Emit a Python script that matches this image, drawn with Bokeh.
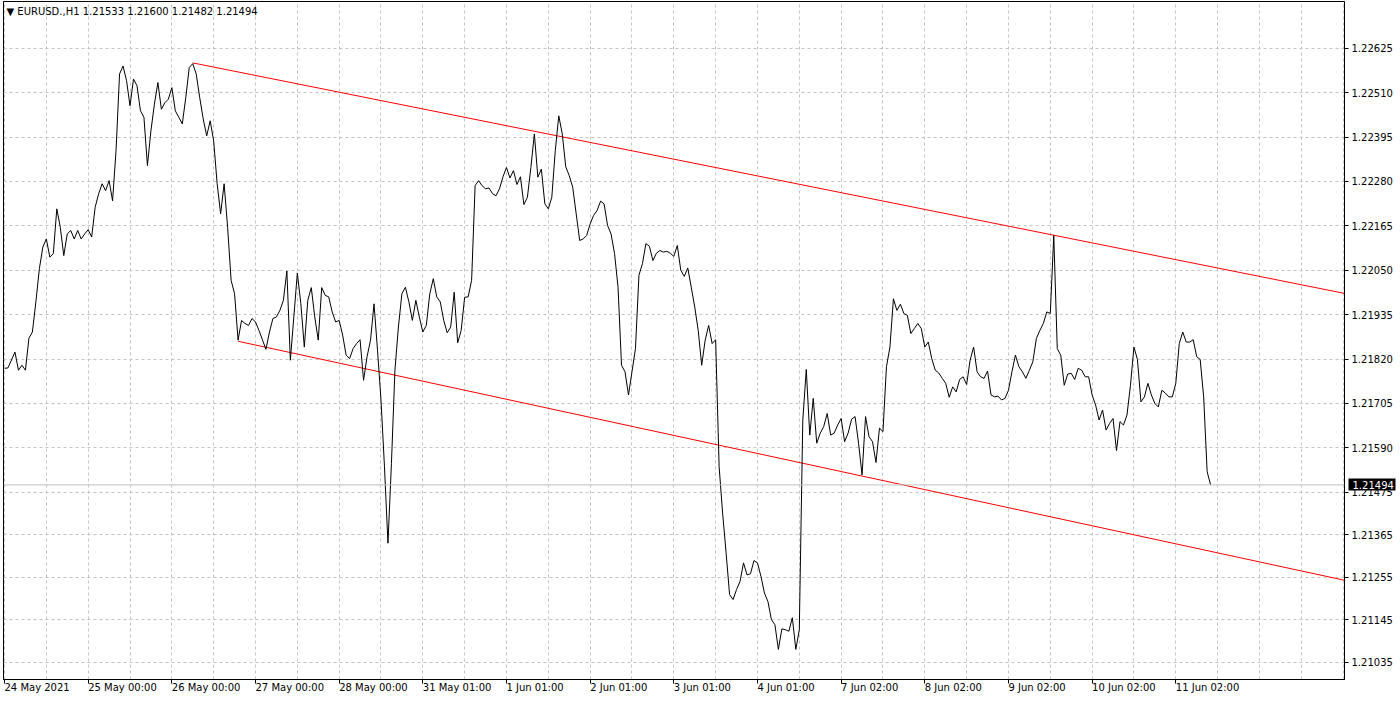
from bokeh.plotting import figure
from bokeh.models import (Range1d, FixedTicker, PrintfTickFormatter, Label, Span,
                          LinearAxis)
from bokeh.embed import file_html
from bokeh.resources import INLINE

# ---------------- data (hourly closes, EURUSD H1) ----------------
bars = [0, 1, 3, 4, 5, 6, 7, 8, 9, 10, 11, 12, 13, 14, 15, 16, 17, 18, 19, 20,
        21, 22, 23, 24, 25, 26, 27, 28, 29, 30, 31, 32, 33, 34, 35, 36, 37, 38, 39, 40,
        41, 42, 43, 44, 45, 46, 47, 48, 49, 50, 51, 52, 53, 54, 55, 56, 57, 58, 59, 60,
        61, 62, 63, 64, 65, 66, 67, 68, 69, 70, 71, 72, 73, 75, 76, 77, 78, 79, 80, 81,
        82, 83, 84, 85, 86, 87, 88, 89, 90, 91, 92, 93, 94, 95, 96, 97, 98, 99, 100, 101,
        102, 103, 104, 105, 106, 107, 108, 109, 110, 111, 112, 113, 114, 115, 116, 117, 118, 119, 120, 121,
        122, 123, 124, 125, 126, 127, 128, 129, 130, 131, 132, 133, 134, 135, 136, 137, 138, 139, 140, 141,
        142, 143, 144, 145, 146, 147, 148, 149, 150, 151, 152, 153, 154, 155, 156, 157, 158, 159, 160, 161,
        162, 163, 164, 165, 166, 167, 168, 169, 170, 171, 172, 173, 174, 175, 176, 177, 178, 179, 180, 181,
        182, 183, 184, 185, 186, 187, 188, 189, 190, 191, 192, 193, 194, 195, 196, 197, 198, 199, 200, 201,
        202, 203, 204, 205, 206, 207, 208, 209, 210, 211, 212, 213, 214, 215, 216, 217, 218, 219, 220, 221,
        222, 223, 224, 225, 226, 227, 228, 229, 230, 231, 232, 233, 234, 235, 236, 237, 238, 239, 240, 241,
        242, 243, 244, 245, 246, 247, 248, 249, 250, 251, 252, 253, 254, 255, 256, 257, 258, 259, 260, 261,
        262, 263, 264, 265, 266, 267, 268, 269, 270, 271, 272, 273, 274, 275, 276, 277, 278, 279, 280, 281,
        282, 283, 284, 285, 286, 287, 288, 289, 290, 291, 292, 293, 294, 295, 296, 297, 298, 299, 300, 301,
        302, 303, 304, 305, 306, 307, 308, 309, 310, 311, 312, 313, 314, 315, 316, 317, 318, 319, 320, 321,
        322, 323, 324, 325, 326, 327, 328, 329, 330, 331, 332, 333, 334, 335, 336, 337, 338, 339, 340, 341,
        342, 343, 344, 345, 346]

closes = [1.21796, 1.21797, 1.21838, 1.21791, 1.21804, 1.21791, 1.21874, 1.21890, 1.21968, 1.22054,
          1.22110, 1.22131, 1.22084, 1.22093, 1.22209, 1.22161, 1.22088, 1.22144, 1.22153, 1.22131,
          1.22153, 1.22131, 1.22144, 1.22155, 1.22136, 1.22213, 1.22248, 1.22274, 1.22256, 1.22282,
          1.22230, 1.22360, 1.22558, 1.22579, 1.22541, 1.22476, 1.22545, 1.22528, 1.22463, 1.22446,
          1.22321, 1.22411, 1.22480, 1.22536, 1.22467, 1.22484, 1.22493, 1.22523, 1.22463, 1.22446,
          1.22429, 1.22497, 1.22575, 1.22585, 1.22558, 1.22497, 1.22442, 1.22398, 1.22437, 1.22385,
          1.22274, 1.22196, 1.22274, 1.22161, 1.22024, 1.21989, 1.21869, 1.21920, 1.21912, 1.21907,
          1.21925, 1.21916, 1.21894, 1.21845, 1.21890, 1.21925, 1.21929, 1.21946, 1.21972, 1.22048,
          1.21817, 1.21929, 1.22043, 1.21964, 1.21851, 1.21972, 1.22005, 1.21929, 1.21869, 1.22005,
          1.21985, 1.21981, 1.21942, 1.21916, 1.21920, 1.21882, 1.21830, 1.21821, 1.21847, 1.21860,
          1.21870, 1.21765, 1.21826, 1.21869, 1.21963, 1.21843, 1.21714, 1.21541, 1.21343, 1.21550,
          1.21791, 1.21903, 1.21989, 1.22006, 1.21968, 1.21920, 1.21972, 1.21929, 1.21890, 1.21907,
          1.21989, 1.22028, 1.21981, 1.21968, 1.21920, 1.21888, 1.21903, 1.21993, 1.21862, 1.21894,
          1.21980, 1.21981, 1.22024, 1.22269, 1.22282, 1.22269, 1.22261, 1.22263, 1.22248, 1.22243,
          1.22261, 1.22292, 1.22316, 1.22289, 1.22308, 1.22272, 1.22292, 1.22220, 1.22239, 1.22316,
          1.22403, 1.22291, 1.22312, 1.22222, 1.22209, 1.22239, 1.22360, 1.22450, 1.22403, 1.22318,
          1.22295, 1.22265, 1.22196, 1.22127, 1.22131, 1.22140, 1.22170, 1.22192, 1.22205, 1.22229,
          1.22222, 1.22166, 1.22144, 1.22093, 1.22006, 1.21804, 1.21787, 1.21727, 1.21787, 1.21847,
          1.22037, 1.22067, 1.22119, 1.22112, 1.22075, 1.22094, 1.22101, 1.22097, 1.22099, 1.22094,
          1.22086, 1.22114, 1.22050, 1.22034, 1.22056, 1.22006, 1.21955, 1.21894, 1.21804, 1.21869,
          1.21907, 1.21860, 1.21870, 1.21541, 1.21421, 1.21318, 1.21210, 1.21197, 1.21223, 1.21244,
          1.21292, 1.21261, 1.21264, 1.21298, 1.21292, 1.21257, 1.21214, 1.21192, 1.21145, 1.21132,
          1.21068, 1.21121, 1.21119, 1.21115, 1.21150, 1.21068, 1.21119, 1.21662, 1.21793, 1.21623,
          1.21718, 1.21602, 1.21628, 1.21645, 1.21679, 1.21623, 1.21628, 1.21649, 1.21666, 1.21606,
          1.21628, 1.21664, 1.21671, 1.21602, 1.21520, 1.21671, 1.21619, 1.21606, 1.21552, 1.21641,
          1.21632, 1.21800, 1.21851, 1.21976, 1.21946, 1.21962, 1.21938, 1.21933, 1.21886, 1.21899,
          1.21912, 1.21899, 1.21851, 1.21864, 1.21821, 1.21791, 1.21784, 1.21770, 1.21757, 1.21721,
          1.21748, 1.21735, 1.21767, 1.21774, 1.21754, 1.21817, 1.21851, 1.21787, 1.21774, 1.21770,
          1.21789, 1.21727, 1.21722, 1.21724, 1.21714, 1.21718, 1.21739, 1.21787, 1.21830, 1.21800,
          1.21787, 1.21770, 1.21791, 1.21813, 1.21873, 1.21894, 1.21912, 1.21942, 1.21938, 1.22140,
          1.21847, 1.21830, 1.21752, 1.21781, 1.21783, 1.21767, 1.21796, 1.21791, 1.21774, 1.21774,
          1.21727, 1.21701, 1.21662, 1.21688, 1.21636, 1.21653, 1.21666, 1.21583, 1.21658, 1.21649,
          1.21675, 1.21752, 1.21851, 1.21819, 1.21709, 1.21722, 1.21757, 1.21727, 1.21705, 1.21696,
          1.21739, 1.21732, 1.21722, 1.21722, 1.21757, 1.21860, 1.21890, 1.21864, 1.21864, 1.21870,
          1.21826, 1.21819, 1.21722, 1.21528, 1.21494]

# time axis labels (bar index -> label)
label_bars = [0, 24, 48, 72, 96, 120, 144, 168, 192, 216, 240, 264, 288, 312, 336]
label_text = ["24 May 2021", "25 May 00:00", "26 May 00:00", "27 May 00:00", "28 May 00:00",
              "31 May 01:00", "1 Jun 01:00", "2 Jun 01:00", "3 Jun 01:00", "4 Jun 01:00",
              "7 Jun 02:00", "8 Jun 02:00", "9 Jun 02:00", "10 Jun 02:00", "11 Jun 02:00"]

# price axis ticks
price_ticks = [1.22625, 1.22510, 1.22395, 1.22280, 1.22165, 1.22050, 1.21935, 1.21820,
               1.21705, 1.21590, 1.21475, 1.21365, 1.21255, 1.21145, 1.21035]

# trend lines drawn on the chart (bar, price)
upper_x = [54, 384.4]
upper_y = [1.22587, 1.21990]
lower_x = [67, 384.4]
lower_y = [1.21866, 1.21247]

# header: symbol, timeframe, last bar O H L C
symbol = "EURUSD.,H1"
last_ohlc = [1.21533, 1.21600, 1.21482, 1.21494]
last_price = 1.21494

FONT = "DejaVu Sans"

p = figure(width=1400, height=701, output_backend="svg", toolbar_location=None,
           x_range=Range1d(-0.29, 384.4), y_range=Range1d(1.20990, 1.22746),
           y_axis_location="right", min_border_left=3, min_border_top=1,
           min_border_right=56, min_border_bottom=21)

p.background_fill_color = "white"
p.border_fill_color = "white"
p.outline_line_color = "black"
p.outline_line_width = 1

# grids
p.xgrid.ticker = FixedTicker(ticks=list(range(0, 385, 12)))
p.ygrid.ticker = FixedTicker(ticks=price_ticks)
for g in (p.xgrid, p.ygrid):
    g.grid_line_color = "#c4c4c4"
    g.grid_line_dash = "3 3"
    g.grid_line_width = 1

# x axis (labels start at their tick)
p.xaxis.ticker = FixedTicker(ticks=label_bars)
p.xaxis.major_label_overrides = {b: t for b, t in zip(label_bars, label_text)}
p.xaxis.major_label_orientation = -0.0001
p.xaxis.major_label_text_font = FONT
p.xaxis.major_label_text_font_size = "10px"
p.xaxis.major_label_text_color = "black"
p.xaxis.major_label_standoff = 4
p.xaxis.major_tick_in = 0
p.xaxis.major_tick_out = 4
p.xaxis.minor_tick_out = 0
p.xaxis.minor_tick_in = 0
p.xaxis.axis_line_color = "black"
p.xaxis.major_tick_line_color = "black"

# y axis (right)
p.yaxis.ticker = FixedTicker(ticks=price_ticks)
p.yaxis.formatter = PrintfTickFormatter(format="%.5f")
p.yaxis.major_label_text_font = FONT
p.yaxis.major_label_text_font_size = "10px"
p.yaxis.major_label_text_color = "black"
p.yaxis.major_label_standoff = 3
p.yaxis.major_tick_in = 0
p.yaxis.major_tick_out = 4
p.yaxis.minor_tick_out = 0
p.yaxis.minor_tick_in = 0
p.yaxis.axis_line_color = "black"
p.yaxis.major_tick_line_color = "black"

# current price marker on the price scale (black box, white text)
box_axis = LinearAxis(ticker=FixedTicker(ticks=[last_price]),
                      formatter=PrintfTickFormatter(format="%.5f"),
                      axis_line_color=None,
                      major_tick_in=47, major_tick_out=0,
                      major_tick_line_width=12, major_tick_line_color="black",
                      minor_tick_in=0, minor_tick_out=0,
                      major_label_standoff=-43,
                      major_label_text_font=FONT, major_label_text_font_size="10px",
                      major_label_text_color="white")
p.add_layout(box_axis, "right")

# current price line
p.add_layout(Span(location=last_price, dimension="width", line_color="#c0c0c0", line_width=1))

# trend lines
p.line(upper_x, upper_y, line_color="#ff0000", line_width=1)
p.line(lower_x, lower_y, line_color="#ff0000", line_width=1)

# price line
p.line(bars, closes, line_color="black", line_width=1)

# header
header = "\u25BC " + symbol + "  " + " ".join("%.5f" % v for v in last_ohlc)
p.add_layout(Label(x=-0.29, y=1.22746, text=header, x_offset=3, y_offset=-4,
                   text_baseline="top", text_font=FONT, text_font_size="10px",
                   text_color="black"))

open("out.html", "w").write(file_html(p, INLINE))
